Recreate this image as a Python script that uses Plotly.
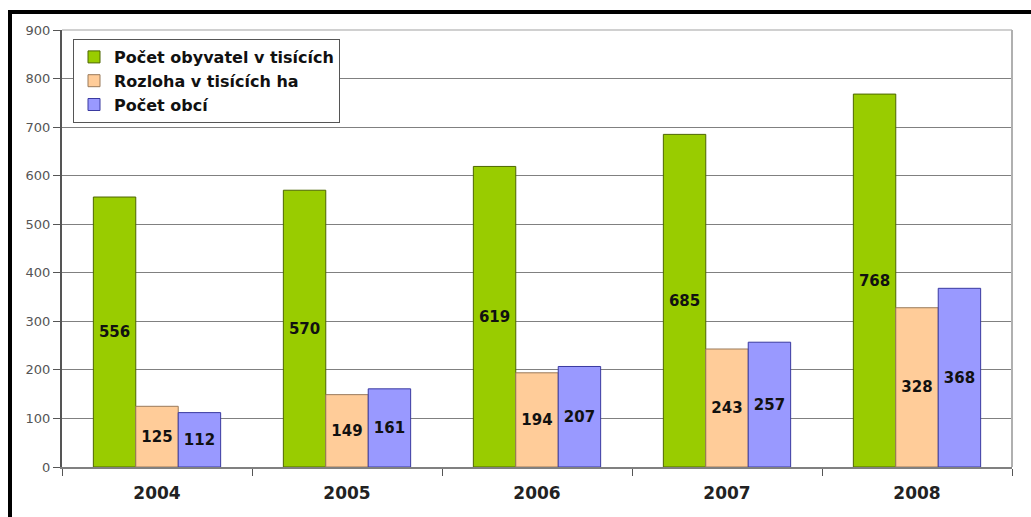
import plotly.graph_objects as go

years = ["2004", "2005", "2006", "2007", "2008"]
obyvatel = [556, 570, 619, 685, 768]
rozloha = [125, 149, 194, 243, 328]
obce = [112, 161, 207, 257, 368]

series = [
    ("Počet obyvatel v tisících", obyvatel, "#99CC00", "#4d6600"),
    ("Rozloha v tisících ha", rozloha, "#FFCC99", "#9a7a5a"),
    ("Počet obcí", obce, "#9999FF", "#3a3aa0"),
]

W, H = 1031, 517
L, R, T, B = 62, 19, 30, 50
pw, ph = W - L - R, H - T - B

def px(x):
    return (x - L) / pw

def py(y):
    return (H - B - y) / ph

fig = go.Figure()
for name, vals, fill, edge in series:
    fig.add_trace(go.Bar(
        name=name, x=years, y=vals,
        marker=dict(color=fill, line=dict(color=edge, width=1)),
        text=[str(v) for v in vals],
        textposition="inside", insidetextanchor="middle",
        textangle=0,
        textfont=dict(family="DejaVu Sans", size=15, color="#111111", weight="bold"),
    ))

# black frame on the left and top edges
fig.add_shape(type="rect", xref="paper", yref="paper",
              x0=px(8), x1=px(12), y0=py(517), y1=py(10),
              fillcolor="black", line_width=0, layer="above")
fig.add_shape(type="rect", xref="paper", yref="paper",
              x0=px(8), x1=px(1031), y0=py(14), y1=py(10),
              fillcolor="black", line_width=0, layer="above")
# light frame around the plot area
fig.add_shape(type="line", xref="paper", yref="paper",
              x0=0, x1=1, y0=1, y1=1, line=dict(color="#c0c0c0", width=1.5))
fig.add_shape(type="line", xref="paper", yref="paper",
              x0=1, x1=1, y0=0, y1=1, line=dict(color="#b0b0b0", width=2))

fig.update_layout(
    width=W, height=H,
    margin=dict(l=L, r=R, t=T, b=B),
    paper_bgcolor="white", plot_bgcolor="white",
    barmode="group", bargap=0.33, bargroupgap=0,
    legend=dict(
        x=px(73), y=py(39), xanchor="left", yanchor="top",
        bgcolor="white", bordercolor="#555555", borderwidth=1,
        font=dict(family="DejaVu Sans", size=16, color="#111111", weight="bold"),
        tracegroupgap=0, itemwidth=30,
    ),
    showlegend=True,
    xaxis=dict(
        showline=True, linecolor="#808080", linewidth=2,
        ticks="outside", ticklen=7, tickcolor="#555555",
        tickson="boundaries", ticklabelstandoff=10,
        tickfont=dict(family="DejaVu Sans", size=17, color="#222222", weight="bold"),
    ),
    yaxis=dict(
        range=[0, 900], dtick=100,
        showline=True, linecolor="#555555", linewidth=2,
        ticks="outside", ticklen=7, tickcolor="#555555",
        showgrid=True, gridcolor="#808080", gridwidth=1,
        zeroline=False,
        tickfont=dict(family="DejaVu Sans", size=13, color="#555555"),
    ),
)

fig.write_html("out.html")
